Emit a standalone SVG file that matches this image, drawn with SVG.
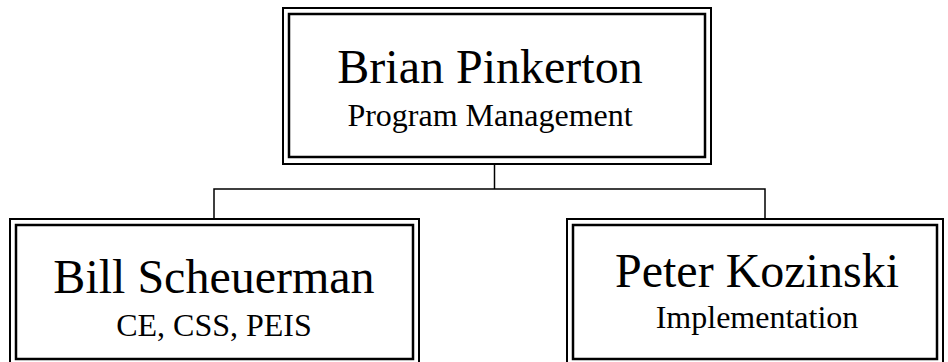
<svg xmlns="http://www.w3.org/2000/svg" width="948" height="362" viewBox="0 0 948 362">
<style>
.o{fill:none;stroke:#000;stroke-width:2}
.i{fill:none;stroke:#000;stroke-width:2.5}
.c{fill:none;stroke:#000;stroke-width:1.5}
text{font-family:"Liberation Serif","Times New Roman",serif;fill:#000;text-anchor:middle}
.n{font-size:48px}
.s{font-size:32px}
</style>
<rect width="948" height="362" fill="#fff"/>
<g id="connectors">
<polyline class="c" points="494.5,164 494.5,189"/>
<polyline class="c" points="214,219 214,189 765,189 765,219"/>
</g>
<g id="node-brian">
<rect class="o" x="283" y="8" width="428" height="156"/>
<rect class="i" x="289" y="14" width="416" height="143"/>
<text class="n" x="490" y="83">Brian Pinkerton</text>
<text class="s" x="490" y="126">Program Management</text>
</g>
<g id="node-bill">
<rect class="o" x="10" y="219" width="409" height="150"/>
<rect class="i" x="16" y="225" width="397" height="134"/>
<text class="n" x="214" y="293">Bill Scheuerman</text>
<text class="s" x="214" y="336">CE, CSS, PEIS</text>
</g>
<g id="node-peter">
<rect class="o" x="567" y="219" width="376" height="150"/>
<rect class="i" x="573" y="225" width="364" height="134"/>
<text class="n" x="757" y="287">Peter Kozinski</text>
<text class="s" x="757" y="328">Implementation</text>
</g>
</svg>
